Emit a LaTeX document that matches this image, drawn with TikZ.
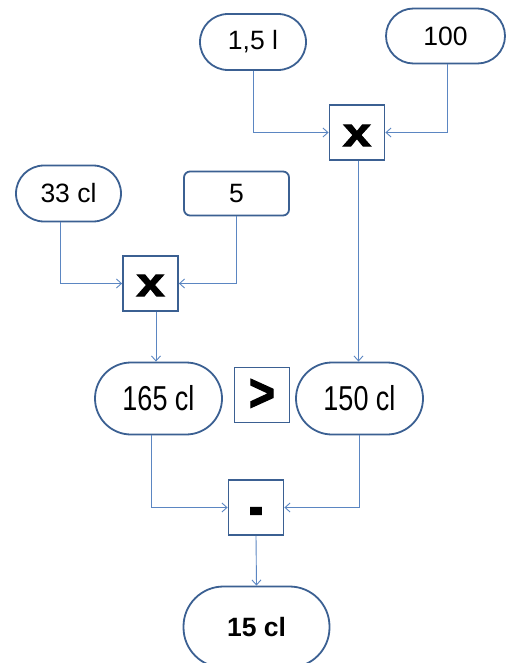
\documentclass[tikz,border=0pt]{standalone}
\usepackage{fontspec}
\setmainfont{Liberation Sans}
\newfontfamily\heavyfont[BoldFeatures={FakeBold=2.5}]{Liberation Sans}
\usetikzlibrary{arrows.meta}
\definecolor{shapeblue}{HTML}{3B6092}
\definecolor{linkblue}{HTML}{5B86C2}
\tikzset{
  pill/.style={draw=shapeblue, line width=1.8pt, fill=white, rounded corners=#1, inner sep=0pt, font=\fontsize{26.5}{30}\selectfont},
  bigpill/.style={draw=shapeblue, line width=1.8pt, fill=white, rounded corners=36pt, inner sep=0pt, font=\fontsize{27}{30}\selectfont},
  opbox/.style={draw=shapeblue, line width=1.8pt, fill=white, minimum width=55pt, minimum height=55pt, inner sep=0pt, font=\heavyfont\bfseries\fontsize{40}{44}\selectfont},
  link/.style={draw=linkblue, line width=0.9pt, -{Straight Barb[length=5pt,width=9pt,line width=0.9pt]}}
}
\begin{document}
\begin{tikzpicture}[x=1pt,y=-1pt]
\clip (0,0) rectangle (510,663);
\fill[white] (0,0) rectangle (510,663);
% top row
\node[pill=28pt, minimum width=106pt, minimum height=56pt] (l15) at (253,42) {1,5 l};
\node[pill=27.5pt, minimum width=119pt, minimum height=55pt] (c100) at (445.5,36) {100};
\node[opbox] (bx1) at (357,132.5) {\raisebox{-13.5pt}[0pt][0pt]{\scalebox{1.25}[1]{x}}};
% second row
\node[pill=28pt, minimum width=105pt, minimum height=56pt] (c33) at (68.5,193.5) {33 cl};
\node[pill=6pt, minimum width=105pt, minimum height=44pt] (c5) at (236.5,193.5) {5};
\node[opbox] (bx2) at (150.5,283.5) {\raisebox{-12.5pt}[0pt][0pt]{\scalebox{1.25}[1]{x}}};
% third row
\node[bigpill, minimum width=127pt, minimum height=72pt] (c165) at (158.5,398.5) {\scalebox{1}[1.28]{165 cl}};
\node[opbox, font=\heavyfont\bfseries\fontsize{42}{46}\selectfont] (gt) at (262,395) {\scalebox{1.05}[1.25]{>}};
\node[bigpill, minimum width=127pt, minimum height=72pt] (c150) at (359.5,398.5) {\scalebox{1}[1.28]{150 cl}};
% bottom
\node[opbox] (minus) at (256,507.5) {\raisebox{-18pt}[0pt][0pt]{\scalebox{1.05}[1.4]{-}}};
\node[pill=40pt, minimum width=146pt, minimum height=81pt, font=\bfseries\fontsize{26.5}{30}\selectfont] (c15) at (256.5,627) {15 cl};
% connectors
\draw[link] (l15.south) |- (bx1.west);
\draw[link] ([xshift=1.5pt]c100.south) |- (bx1.east);
\coordinate (b1out) at ([xshift=1.5pt]bx1.south);
\draw[link] (b1out) -- (b1out |- c150.north);
\draw[link] ([xshift=-8.5pt]c33.south) |- (bx2.west);
\draw[link] (c5.south) |- (bx2.east);
\coordinate (b2out) at ([xshift=5.5pt]bx2.south);
\draw[link] (b2out) -- (b2out |- c165.north);
\draw[link] ([xshift=-7.5pt]c165.south) |- (minus.west);
\draw[link] (c150.south) |- (minus.east);
\draw[link] (minus.south) -- (c15.north);
\end{tikzpicture}
\end{document}
